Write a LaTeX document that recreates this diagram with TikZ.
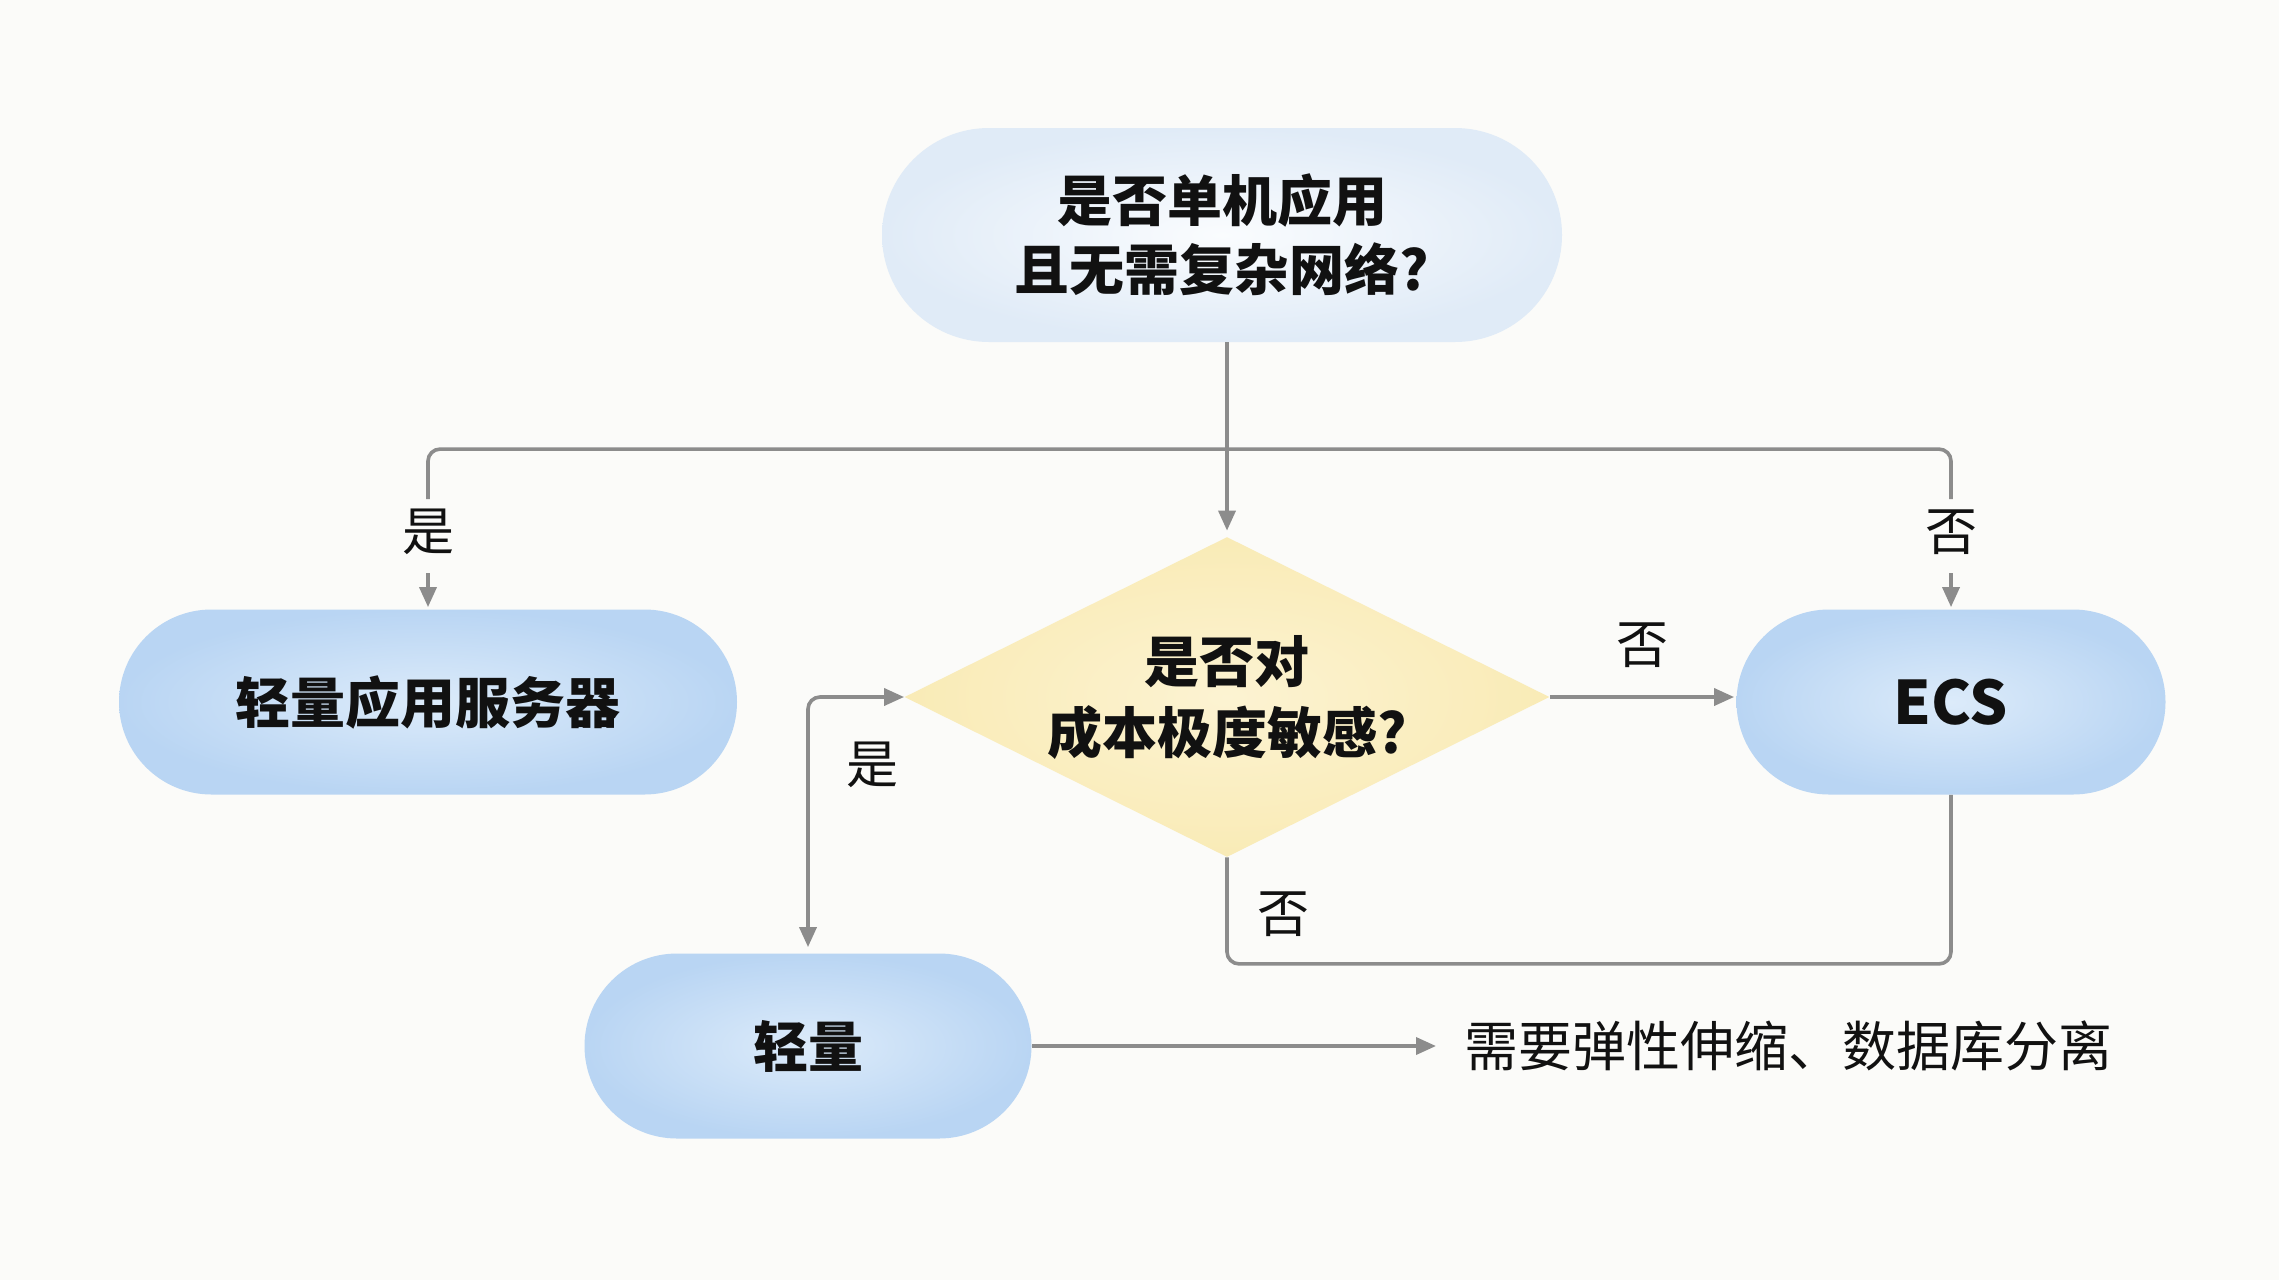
\documentclass[tikz,border=0pt]{standalone}
\usepackage{fontspec}
\setmainfont{Noto Sans CJK SC}
\usetikzlibrary{shapes.geometric,shapes.misc,arrows.meta,calc}
\definecolor{bg}{HTML}{FBFBF9}
\definecolor{pillin}{HTML}{DCEBFA}
\definecolor{pillout}{HTML}{B9D5F3}
\definecolor{topin}{HTML}{FAFCFE}
\definecolor{topout}{HTML}{E0EBF7}
\definecolor{diain}{HTML}{FCF3D2}
\definecolor{diaout}{HTML}{F9EBB6}
\definecolor{linecol}{HTML}{8C8C8C}
\definecolor{ink}{HTML}{111111}
\begin{document}
\begin{tikzpicture}[x=0.5pt,y=-0.5pt,
  pill/.style={rounded rectangle, inner color=pillin, outer color=pillout,
    minimum height=92.5pt, inner sep=0pt, text=ink, align=center,
    font=\fontsize{27.5}{34.5}\selectfont\bfseries},
  toppill/.style={pill, inner color=topin, outer color=topout, minimum height=107pt},
  dia/.style={diamond, shape aspect=2, inner color=diain, outer color=diaout,
    minimum width=322.5pt, minimum height=160pt, inner sep=0pt, text=ink, align=center,
    font=\fontsize{27.5}{35.5}\selectfont\bfseries},
  conn/.style={draw=linecol, line width=1.8pt, rounded corners=6pt},
  arr/.style={conn, -{Triangle[length=10pt,width=8.5pt]}},
  lbl/.style={text=ink, font=\fontsize{26}{30}\selectfont, inner sep=0pt},
  note/.style={text=ink, font=\fontsize{27}{30}\selectfont, inner ysep=0pt, inner xsep=14pt}
]
\fill[bg] (0,0) rectangle (2279,1280);
\useasboundingbox (0,0) rectangle (2279,1280);

\node[toppill, minimum width=340pt] (top) at (1222,235) {是否单机应用\\且无需复杂网络?};
\node[pill, minimum width=309pt] (light) at (428,702) {轻量应用服务器};
\node[dia] (d) at (1227,697) {是否对\\成本极度敏感?};
\node[pill, minimum width=214.5pt, font=\fontsize{30}{34}\selectfont\bfseries] (ecs) at (1951,702) {ECS};
\node[pill, minimum width=223.5pt] (lq) at (808,1046) {轻量};
\node[note, anchor=west] (nt) at (1436,1046) {需要弹性伸缩、数据库分离};

% top to diamond
\draw[arr] (top.south -| d.north) -- ([yshift=3pt]d.north);
% branch bar
\draw[conn] ([yshift=55pt]light.north) -- ([yshift=80pt]light.north)
  -- ([yshift=80pt]ecs.north) -- ([yshift=55pt]ecs.north);
\node[lbl] (yes1) at ([yshift=38.5pt]light.north) {是};
\draw[arr] ([yshift=18pt]light.north) -- ([yshift=1pt]light.north);
\node[lbl] (no1) at ([yshift=38.5pt]ecs.north) {否};
\draw[arr] ([yshift=18pt]ecs.north) -- ([yshift=1pt]ecs.north);
% diamond to ECS
\draw[arr] (d.east) -- ([xshift=-1pt]d.east -| ecs.west)
  node[lbl, midway, yshift=26pt] (no2) {否};
% diamond to light (yes)
\draw[conn, {Triangle[length=10pt,width=8.5pt]}-{Triangle[length=10pt,width=8.5pt]}]
  (d.west) -| ([yshift=3pt]lq.north);
\node[lbl] (yes2) at ($(lq.north |- d.west)+(64,68)$) {是};
% diamond bottom loop to ECS
\draw[conn] (d.south) |- ([yshift=-84.5pt]ecs.south) -- (ecs.south);
\node[lbl] (no3) at ($(d.south)+(56,57)$) {否};
% light to note
\draw[arr] (lq.east) -- (nt.west);
\end{tikzpicture}
\end{document}
